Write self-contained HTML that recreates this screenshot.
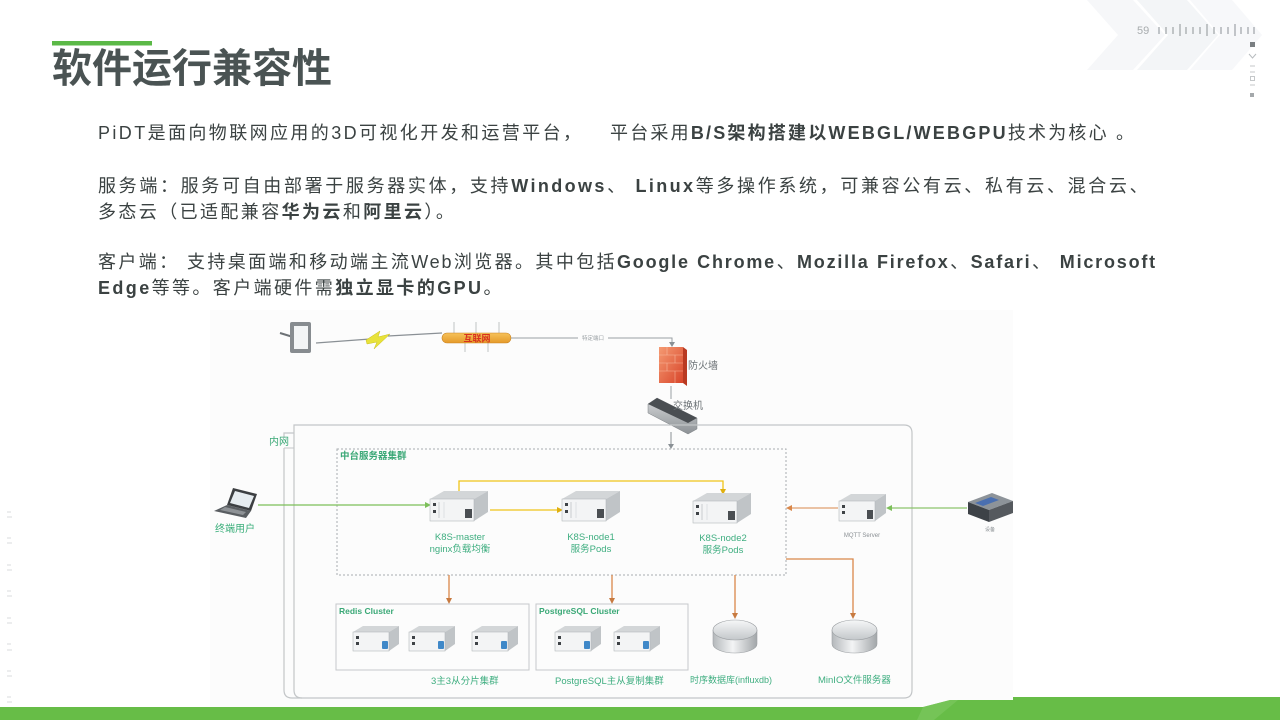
<!DOCTYPE html>
<html><head><meta charset="utf-8">
<style>
html,body{margin:0;padding:0;background:#fff;}
body{width:1280px;height:720px;position:relative;overflow:hidden;font-family:"Liberation Sans","Noto Sans CJK SC",sans-serif;}
.title{position:absolute;left:52px;top:45px;height:48px;line-height:48px;font-size:40px;font-weight:bold;color:#4a5353;font-family:"Liberation Sans","Noto Sans CJK SC",sans-serif;white-space:nowrap;}
.t{position:absolute;left:98px;font-size:18px;color:#3b4242;letter-spacing:2.4px;line-height:26px;white-space:nowrap;font-family:"Liberation Sans","Noto Sans CJK SC",sans-serif;}
.j{white-space:normal;text-align:justify;text-align-last:justify;overflow:hidden;height:26px;}
b{font-weight:bold;}
svg{position:absolute;left:0;top:0;}
</style></head>
<body>
<svg width="1280" height="720" viewBox="0 0 1280 720">
<defs>
<linearGradient id="cy" x1="0" x2="1" y1="0" y2="0"><stop offset="0" stop-color="#b4b8bb"/><stop offset="0.45" stop-color="#f3f4f5"/><stop offset="1" stop-color="#a2a6a9"/></linearGradient>
<linearGradient id="cyt" x1="0" x2="0" y1="0" y2="1"><stop offset="0" stop-color="#f6f7f8"/><stop offset="1" stop-color="#c3c7ca"/></linearGradient>
<linearGradient id="fw" x1="0" x2="1" y1="0" y2="1"><stop offset="0" stop-color="#f59a72"/><stop offset="1" stop-color="#d8452a"/></linearGradient>
<linearGradient id="ib" x1="0" x2="0" y1="0" y2="1"><stop offset="0" stop-color="#f6c25a"/><stop offset="1" stop-color="#e59a2a"/></linearGradient>
<linearGradient id="sw" x1="0" x2="0" y1="0" y2="1"><stop offset="0" stop-color="#d6d8da"/><stop offset="1" stop-color="#8d9195"/></linearGradient>
</defs>

<!-- top-right chevrons -->
<polygon points="1087,0 1133,0 1165,35 1133,70 1087,70 1118,35" fill="#f6f7f9"/>
<polygon points="1137,0 1187,0 1218,35 1187,70 1137,70 1168,35" fill="#f3f5f7"/>
<polygon points="1190,0 1232,0 1262,35 1232,70 1190,70 1220,35" fill="#f7f8fa"/>

<text x="1137" y="34" font-size="11" fill="#a8acae" font-family="Liberation Sans, sans-serif">59</text>
<g stroke="#9da2a6" stroke-width="1.2">
<line x1="1159" y1="27" x2="1159" y2="34"/><line x1="1166" y1="27" x2="1166" y2="34"/><line x1="1173" y1="27" x2="1173" y2="34"/>
<line x1="1180" y1="24" x2="1180" y2="36"/>
<line x1="1186" y1="27" x2="1186" y2="34"/><line x1="1193" y1="27" x2="1193" y2="34"/><line x1="1200" y1="27" x2="1200" y2="34"/>
<line x1="1207" y1="24" x2="1207" y2="36"/>
<line x1="1214" y1="27" x2="1214" y2="34"/><line x1="1221" y1="27" x2="1221" y2="34"/><line x1="1228" y1="27" x2="1228" y2="34"/>
<line x1="1235" y1="24" x2="1235" y2="36"/>
<line x1="1241" y1="27" x2="1241" y2="34"/><line x1="1248" y1="27" x2="1248" y2="34"/><line x1="1254" y1="27" x2="1254" y2="34"/>
</g>
<rect x="1250" y="42" width="5" height="5" fill="#7a7f82"/>
<polyline points="1249,54 1252.5,58 1256,54" fill="none" stroke="#b8bcbf" stroke-width="1"/>
<line x1="1250" y1="66" x2="1255" y2="66" stroke="#c4c7c9"/>
<line x1="1250" y1="72" x2="1255" y2="72" stroke="#c4c7c9"/>
<rect x="1250.5" y="76.5" width="4" height="4" fill="none" stroke="#c4c7c9"/>
<line x1="1250" y1="85" x2="1255" y2="85" stroke="#c4c7c9"/>
<rect x="1250" y="93" width="4" height="4" fill="#a4a8ab"/>

<!-- title bar -->
<rect x="52" y="41" width="100" height="4.5" fill="#5bb947"/>

<!-- left tiny marks -->
<g stroke="#d8dbdd" stroke-width="1">
<line x1="7" y1="512" x2="11" y2="512"/><line x1="7" y1="517" x2="12" y2="517"/>
<line x1="7" y1="538" x2="11" y2="538"/><line x1="7" y1="543" x2="12" y2="543"/>
<line x1="7" y1="565" x2="11" y2="565"/><line x1="7" y1="570" x2="12" y2="570"/>
<line x1="7" y1="591" x2="11" y2="591"/><line x1="7" y1="596" x2="12" y2="596"/>
<line x1="7" y1="618" x2="11" y2="618"/><line x1="7" y1="623" x2="12" y2="623"/>
<line x1="7" y1="644" x2="11" y2="644"/><line x1="7" y1="650" x2="12" y2="650"/>
<line x1="7" y1="671" x2="11" y2="671"/><line x1="7" y1="676" x2="12" y2="676"/>
<line x1="7" y1="697" x2="11" y2="697"/><line x1="7" y1="702" x2="12" y2="702"/>
</g>

<!-- diagram background -->
<rect x="210" y="310" width="803" height="397" fill="#fcfcfc"/>

<!-- tablet -->
<line x1="280" y1="333" x2="293" y2="337" stroke="#6d7276" stroke-width="2"/>
<rect x="290" y="322" width="21" height="31" rx="2" fill="#878c90"/>
<rect x="294" y="326" width="14" height="23" fill="#f3f5f6"/>
<!-- lightning line -->
<line x1="316" y1="343" x2="370" y2="339" stroke="#8a9095" stroke-width="1.3"/>
<polygon points="366,340 380,331 378,337 390,334 374,349 377,342 367,344" fill="#e8e23a" stroke="#c9c020" stroke-width="0.5"/>
<line x1="388" y1="336" x2="442" y2="333" stroke="#8a9095" stroke-width="1.3"/>
<!-- internet bar -->
<g stroke="#b0b4b7" stroke-width="0.8">
<line x1="454" y1="322" x2="454" y2="334"/><line x1="476" y1="322" x2="476" y2="334"/><line x1="499" y1="322" x2="499" y2="334"/>
<line x1="465" y1="342" x2="465" y2="352"/><line x1="488" y1="342" x2="488" y2="352"/>
</g>
<rect x="442" y="333" width="69" height="10" rx="5" fill="url(#ib)" stroke="#c98424" stroke-width="0.6"/>
<text x="477" y="341.5" font-size="9" fill="#d8321f" text-anchor="middle" font-weight="bold">互联网</text>
<!-- to firewall -->
<path d="M511,338 H672 V344" fill="none" stroke="#9aa0a4" stroke-width="1"/>
<polygon points="669,342 675,342 672,347" fill="#8a9095"/>
<rect x="578" y="335" width="30" height="6" fill="#fcfcfc"/>
<text x="593" y="340" font-size="5.5" fill="#9aa0a4" text-anchor="middle">特定端口</text>
<!-- firewall -->
<polygon points="683,347 687,350 687,386 683,383" fill="#b93a22"/>
<rect x="659" y="347" width="24" height="36" fill="url(#fw)"/>
<g stroke="#fbc6ad" stroke-width="0.6" opacity="0.8">
<line x1="659" y1="355" x2="683" y2="355"/><line x1="659" y1="363" x2="683" y2="363"/><line x1="659" y1="371" x2="683" y2="371"/>
<line x1="667" y1="347" x2="667" y2="355"/><line x1="675" y1="355" x2="675" y2="363"/><line x1="667" y1="363" x2="667" y2="371"/><line x1="675" y1="371" x2="675" y2="383"/>
</g>
<text x="688" y="369" font-size="10" fill="#6b7175">防火墙</text>
<line x1="671" y1="386" x2="671" y2="399" stroke="#9aa0a4" stroke-width="1"/>
<!-- switch -->
<polygon points="648,404 657,398 697,418 697,429 688,434 648,413" fill="url(#sw)" stroke="#7d8185" stroke-width="0.5"/>
<polygon points="648,404 657,398 697,418 688,423" fill="#4a4e52"/>
<text x="673" y="409" font-size="10" fill="#6b7175">交换机</text>
<line x1="671" y1="432" x2="671" y2="446" stroke="#8a9095" stroke-width="1"/>
<polygon points="668,444 674,444 671,449" fill="#8a9095"/>

<!-- 内网 outer box -->
<path d="M294,425 H904 Q912,425 912,433 V690 Q912,698 904,698 H302 Q294,698 294,690 Z" fill="none" stroke="#c3c6c8" stroke-width="1.2"/>
<path d="M284,448 V690 Q284,698 292,698 H302" fill="none" stroke="#c3c6c8" stroke-width="1.2"/>
<path d="M284,438 V433 H294" fill="none" stroke="#c3c6c8" stroke-width="1.2"/>
<line x1="284" y1="448" x2="294" y2="448" stroke="#c3c6c8" stroke-width="1"/>
<text x="269" y="445" font-size="10" fill="#3aa876">内网</text>

<!-- 中台 dashed box -->
<rect x="337" y="449" width="449" height="126" fill="none" stroke="#a9adb0" stroke-width="1" stroke-dasharray="2,2"/>
<text x="340" y="459" font-size="9.5" fill="#3aa876" font-weight="bold">中台服务器集群</text>

<!-- laptop -->
<polygon points="233,488 257,494 251,511 227,505" fill="#3c3f42"/>
<polygon points="235,491 254,496 249,508 230,503" fill="#e6ecf0"/>
<polygon points="227,505 251,511 246,518 214,511" fill="#5a5e62"/>
<polygon points="225,507 246,512 243,515 220,510" fill="#8e9296"/>
<text x="215" y="532" font-size="10" fill="#3aae7a">终端用户</text>

<!-- connectors -->
<line x1="258" y1="505" x2="427" y2="505" stroke="#7cbf5a" stroke-width="1.2"/>
<polygon points="425,502 431,505 425,508" fill="#7cbf5a"/>
<line x1="490" y1="510" x2="559" y2="510" stroke="#f0c419" stroke-width="1.3"/>
<polygon points="557,507 563,510 557,513" fill="#e0b010"/>
<path d="M459,492 V481 H723 V491" fill="none" stroke="#f0c419" stroke-width="1.3"/>
<polygon points="720,489 726,489 723,495" fill="#e0b010"/>
<line x1="838" y1="508" x2="790" y2="508" stroke="#e0a070" stroke-width="1.2"/>
<polygon points="792,505 786,508 792,511" fill="#d9874a"/>
<line x1="967" y1="508" x2="890" y2="508" stroke="#8cc46c" stroke-width="1.2"/>
<polygon points="892,505 886,508 892,511" fill="#7cbf5a"/>
<g stroke="#d9874a" stroke-width="1.3" fill="none">
<line x1="449" y1="575" x2="449" y2="600"/>
<line x1="612" y1="575" x2="612" y2="600"/>
<line x1="735" y1="575" x2="735" y2="615"/>
<path d="M786,559 H853 V615"/>
</g>
<g fill="#c77a40">
<polygon points="446,598 452,598 449,604"/>
<polygon points="609,598 615,598 612,604"/>
<polygon points="732,613 738,613 735,619"/>
<polygon points="850,613 856,613 853,619"/>
</g>

<!-- K8S-master server -->
<g transform="translate(430,490)">
<polygon points="0,9 14,1 58,1 44,9" fill="#d3d6d8"/>
<polygon points="44,9 58,1 58,22 44,31" fill="#c0c4c7"/>
<rect x="0" y="9" width="44" height="22" fill="#f3f4f5" stroke="#b4b8bb" stroke-width="0.6"/>
<rect x="3" y="13" width="3" height="3" fill="#3e4246"/><rect x="3" y="20" width="3" height="3" fill="#3e4246"/>
<line x1="9" y1="12" x2="9" y2="28" stroke="#c9ccce"/><line x1="14" y1="12" x2="14" y2="28" stroke="#dde0e2"/>
<rect x="35" y="19" width="7" height="9" fill="#4a4e52"/>
</g>
<text x="460" y="540" font-size="9.5" fill="#3fae80" text-anchor="middle">K8S-master</text>
<text x="460" y="552" font-size="9.5" fill="#3fae80" text-anchor="middle">nginx负载均衡</text>
<!-- node1 -->
<g transform="translate(562,490)">
<polygon points="0,9 14,1 58,1 44,9" fill="#d3d6d8"/>
<polygon points="44,9 58,1 58,22 44,31" fill="#c0c4c7"/>
<rect x="0" y="9" width="44" height="22" fill="#f3f4f5" stroke="#b4b8bb" stroke-width="0.6"/>
<rect x="3" y="13" width="3" height="3" fill="#3e4246"/><rect x="3" y="20" width="3" height="3" fill="#3e4246"/>
<line x1="9" y1="12" x2="9" y2="28" stroke="#c9ccce"/><line x1="14" y1="12" x2="14" y2="28" stroke="#dde0e2"/>
<rect x="35" y="19" width="7" height="9" fill="#4a4e52"/>
</g>
<text x="591" y="540" font-size="9.5" fill="#3fae80" text-anchor="middle">K8S-node1</text>
<text x="591" y="552" font-size="9.5" fill="#3fae80" text-anchor="middle">服务Pods</text>
<!-- node2 -->
<g transform="translate(693,492)">
<polygon points="0,9 14,1 58,1 44,9" fill="#d3d6d8"/>
<polygon points="44,9 58,1 58,22 44,31" fill="#c0c4c7"/>
<rect x="0" y="9" width="44" height="22" fill="#f3f4f5" stroke="#b4b8bb" stroke-width="0.6"/>
<rect x="3" y="13" width="3" height="3" fill="#3e4246"/><rect x="3" y="20" width="3" height="3" fill="#3e4246"/>
<line x1="9" y1="12" x2="9" y2="28" stroke="#c9ccce"/><line x1="14" y1="12" x2="14" y2="28" stroke="#dde0e2"/>
<rect x="35" y="19" width="7" height="9" fill="#4a4e52"/>
</g>
<text x="723" y="541" font-size="9.5" fill="#3fae80" text-anchor="middle">K8S-node2</text>
<text x="723" y="553" font-size="9.5" fill="#3fae80" text-anchor="middle">服务Pods</text>
<!-- MQTT server -->
<g transform="translate(839,493)">
<polygon points="0,8 12,1 47,1 36,8" fill="#d3d6d8"/>
<polygon points="36,8 47,1 47,20 36,28" fill="#c0c4c7"/>
<rect x="0" y="8" width="36" height="20" fill="#f3f4f5" stroke="#b4b8bb" stroke-width="0.6"/>
<rect x="3" y="12" width="3" height="3" fill="#3e4246"/><rect x="3" y="18" width="3" height="3" fill="#3e4246"/>
<rect x="28" y="17" width="6" height="9" fill="#4a4e52"/>
</g>
<text x="862" y="537" font-size="6" fill="#8a8f93" text-anchor="middle">MQTT Server</text>
<!-- device -->
<polygon points="968,502 992,493 1013,501 989,510" fill="#8d9399"/>
<polygon points="968,502 989,510 989,522 968,514" fill="#3d4247"/>
<polygon points="989,510 1013,501 1013,513 989,522" fill="#55595e"/>
<polygon points="975,503 991,497 999,500 983,506" fill="#4a6fb0"/>
<text x="990" y="531" font-size="5" fill="#8a8f93" text-anchor="middle">设备</text>

<!-- Redis cluster -->
<rect x="336" y="604" width="193" height="66" fill="none" stroke="#c6c9cb" stroke-width="1"/>
<text x="339" y="614" font-size="8.5" fill="#3aa876" font-weight="bold">Redis Cluster</text>
<g transform="translate(353,625)">
<polygon points="0,7 10,1 46,1 36,7" fill="#d3d6d8"/><polygon points="36,7 46,1 46,19 36,26" fill="#c0c4c7"/>
<rect x="0" y="7" width="36" height="19" fill="#f3f4f5" stroke="#b4b8bb" stroke-width="0.6"/>
<rect x="3" y="11" width="3" height="3" fill="#3e4246"/><rect x="3" y="17" width="3" height="3" fill="#3e4246"/>
<rect x="29" y="16" width="6" height="8" rx="1" fill="#3f88c8"/>
</g>
<g transform="translate(409,625)">
<polygon points="0,7 10,1 46,1 36,7" fill="#d3d6d8"/><polygon points="36,7 46,1 46,19 36,26" fill="#c0c4c7"/>
<rect x="0" y="7" width="36" height="19" fill="#f3f4f5" stroke="#b4b8bb" stroke-width="0.6"/>
<rect x="3" y="11" width="3" height="3" fill="#3e4246"/><rect x="3" y="17" width="3" height="3" fill="#3e4246"/>
<rect x="29" y="16" width="6" height="8" rx="1" fill="#3f88c8"/>
</g>
<g transform="translate(472,625)">
<polygon points="0,7 10,1 46,1 36,7" fill="#d3d6d8"/><polygon points="36,7 46,1 46,19 36,26" fill="#c0c4c7"/>
<rect x="0" y="7" width="36" height="19" fill="#f3f4f5" stroke="#b4b8bb" stroke-width="0.6"/>
<rect x="3" y="11" width="3" height="3" fill="#3e4246"/><rect x="3" y="17" width="3" height="3" fill="#3e4246"/>
<rect x="29" y="16" width="6" height="8" rx="1" fill="#3f88c8"/>
</g>
<text x="431" y="684" font-size="9.5" fill="#3fae80">3主3从分片集群</text>

<!-- PostgreSQL cluster -->
<rect x="536" y="604" width="152" height="66" fill="none" stroke="#c6c9cb" stroke-width="1"/>
<text x="539" y="614" font-size="8.5" fill="#3aa876" font-weight="bold">PostgreSQL Cluster</text>
<g transform="translate(555,625)">
<polygon points="0,7 10,1 46,1 36,7" fill="#d3d6d8"/><polygon points="36,7 46,1 46,19 36,26" fill="#c0c4c7"/>
<rect x="0" y="7" width="36" height="19" fill="#f3f4f5" stroke="#b4b8bb" stroke-width="0.6"/>
<rect x="3" y="11" width="3" height="3" fill="#3e4246"/><rect x="3" y="17" width="3" height="3" fill="#3e4246"/>
<rect x="29" y="16" width="6" height="8" rx="1" fill="#3f88c8"/>
</g>
<g transform="translate(614,625)">
<polygon points="0,7 10,1 46,1 36,7" fill="#d3d6d8"/><polygon points="36,7 46,1 46,19 36,26" fill="#c0c4c7"/>
<rect x="0" y="7" width="36" height="19" fill="#f3f4f5" stroke="#b4b8bb" stroke-width="0.6"/>
<rect x="3" y="11" width="3" height="3" fill="#3e4246"/><rect x="3" y="17" width="3" height="3" fill="#3e4246"/>
<rect x="29" y="16" width="6" height="8" rx="1" fill="#3f88c8"/>
</g>
<text x="555" y="684" font-size="9.5" fill="#3fae80">PostgreSQL主从复制集群</text>

<!-- cylinders -->
<path d="M713,630 V644 A22,9 0 0 0 757,644 V630 Z" fill="url(#cy)" stroke="#9da1a4" stroke-width="0.6"/>
<ellipse cx="735" cy="630" rx="22" ry="10" fill="url(#cyt)" stroke="#9da1a4" stroke-width="0.6"/>
<text x="690" y="683" font-size="9" fill="#3fae80">时序数据库(influxdb)</text>
<path d="M832,630 V644 A22.5,9 0 0 0 877,644 V630 Z" fill="url(#cy)" stroke="#9da1a4" stroke-width="0.6"/>
<ellipse cx="854.5" cy="630" rx="22.5" ry="10" fill="url(#cyt)" stroke="#9da1a4" stroke-width="0.6"/>
<text x="818" y="683" font-size="9.5" fill="#3fae80">MinIO文件服务器</text>

<!-- bottom green bar -->
<polygon points="0,707 923,707 950,700 1013,700 1013,697 1280,697 1280,720 0,720" fill="#67bd47"/>
<polygon points="923,707 950,700 958,700 934,720 917,720" fill="#7fc863" opacity="0.6"/>
</svg>

<div class="title">软件运行兼容性</div>

<div class="t" style="top:120px;">PiDT是面向物联网应用的3D可视化开发和运营平台，</div>
<div class="t" style="top:120px;left:610px;letter-spacing:2.2px;">平台采用<b>B/S架构搭建以WEBGL/WEBGPU</b>技术为核心 。</div>

<div class="t j" style="top:173px;width:1052px;">服务端：服务可自由部署于服务器实体，支持<b>Windows</b>、 <b>Linux</b>等多操作系统，可兼容公有云、私有云、混合云、</div>
<div class="t" style="top:199px;">多态云（已适配兼容<b>华为云</b>和<b>阿里云</b>）。</div>

<div class="t j" style="top:249px;width:1059px;letter-spacing:1.8px;">客户端： 支持桌面端和移动端主流Web浏览器。其中包括<b>Google Chrome</b>、<b>Mozilla Firefox</b>、<b>Safari</b>、 <b>Microsoft</b></div>
<div class="t" style="top:275px;"><b>Edge</b>等等。客户端硬件需<b>独立显卡的GPU</b>。</div>

</body></html>
